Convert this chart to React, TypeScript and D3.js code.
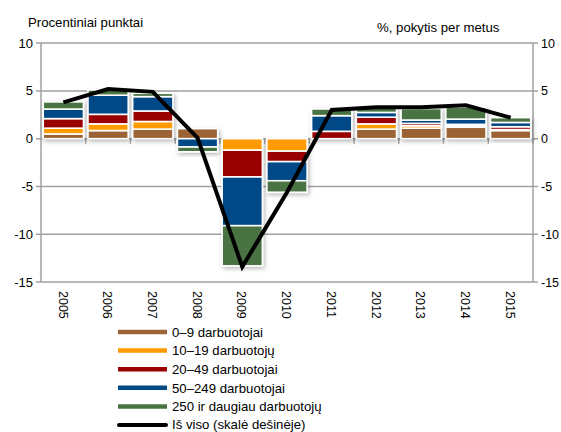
import React from "react";
import * as d3 from "d3";

const years = ["2005","2006","2007","2008","2009","2010","2011","2012","2013","2014","2015"];
const seriesNames = ["0–9 darbuotojai","10–19 darbuotojų","20–49 darbuotojai","50–249 darbuotojai","250 ir daugiau darbuotojų"];
const s0_9 =     [0.5, 0.85, 1.0, 1.05, 0, 0, 0, 1.0, 1.1, 1.2, 0.85];
const s10_19 =   [0.6, 0.7, 0.8, 0, -1.2, -1.3, 0, 0.55, 0.25, 0.15, 0.1];
const s20_49 =   [1.0, 1.0, 1.1, 0, -2.8, -1.1, 0.77, 0.7, 0.25, 0.15, 0.3];
const s50_249 =  [1.0, 2.0, 1.5, -0.87, -5.1, -2.0, 1.64, 0.5, 0.35, 0.55, 0.45];
const s250 =     [0.75, 0.55, 0.35, -0.5, -4.2, -1.2, 0.7, 0.45, 1.2, 1.25, 0.5];
const totalLine = [3.8, 5.2, 4.9, 0.1, -13.4, -5.6, 3.0, 3.3, 3.3, 3.5, 2.2];
const totalName = "Iš viso (skalė dešinėje)";
const yTicks = [10, 5, 0, -5, -10, -15];
const colors = ["#9B6434", "#FF9A00", "#990000", "#004A86", "#4A7343"];

const keys = ["a", "b", "c", "d", "e"];
const seriesArrays = [s0_9, s10_19, s20_49, s50_249, s250];
const table = years.map((y, i) => {
  const row: any = { year: y };
  keys.forEach((k, j) => (row[k] = seriesArrays[j][i]));
  return row;
});

export default function App() {
  const W = 561, H = 432;
  const left = 41, right = 533, top = 43.1, bottom = 282.1;
  const x = d3.scaleBand<string>().domain(years).range([left, right]).paddingInner(0.1).paddingOuter(0.05);
  const y = d3.scaleLinear().domain([-15, 10]).range([bottom, top]);
  const stack = d3.stack<any>().keys(keys).offset(d3.stackOffsetDiverging);
  const stacked = stack(table);
  const line = d3.line<number>().x((_, i) => (x(years[i]) as number) + x.bandwidth() / 2).y((d) => y(d));
  const font = "'Liberation Sans', Arial, sans-serif";
  const gray = "#A0A0A0";
  const step = x.step();
  const fs = 13.2;

  return (
    <div style={{ position: "absolute", left: 0, top: 0 }}>
      <svg width={W} height={H} style={{ display: "block", background: "#fff" }} fontFamily={font}>
        <defs>
          <filter id="sh" x="-20%" y="-20%" width="140%" height="140%">
            <feDropShadow dx="1.5" dy="2" stdDeviation="2.2" floodColor="#000" floodOpacity="0.28" />
          </filter>
        </defs>
        {yTicks.map((t) => (
          <line key={"g" + t} x1={left - 5} x2={right + 5} y1={y(t)} y2={y(t)} stroke={gray} strokeWidth={1.5} />
        ))}
        <line x1={left} x2={left} y1={top} y2={bottom} stroke={gray} strokeWidth={1.5} />
        <line x1={right} x2={right} y1={top} y2={bottom} stroke={gray} strokeWidth={1.5} />
        {years.map((yr, i) => (
          <line key={"ct" + i} x1={left + step * (i + 1)} x2={left + step * (i + 1)} y1={y(0)} y2={y(0) + 5} stroke={gray} strokeWidth={1.5} />
        ))}
        {years.map((yr, i) => (
          <g key={"bar" + yr} filter="url(#sh)">
            {stacked.map((s, j) => {
              const d = s[i];
              const y0 = y(d[0]), y1 = y(d[1]);
              const h = Math.abs(y0 - y1);
              if (h < 0.01) return null;
              return (
                <rect key={j} x={x(yr)} width={x.bandwidth()} y={Math.min(y0, y1)} height={h} fill={colors[j]} stroke="#fff" strokeWidth={1.6} />
              );
            })}
          </g>
        ))}
        <path d={line(totalLine) || ""} fill="none" stroke="#000" strokeWidth={4} strokeLinejoin="miter" />
        {yTicks.map((t) => (
          <text key={"l" + t} x={33} y={y(t) + 4.5} textAnchor="end" fontSize={13} fill="#000">{t}</text>
        ))}
        {yTicks.map((t) => (
          <text key={"r" + t} x={541} y={y(t) + 4.5} textAnchor="start" fontSize={12.5} fill="#000">{t}</text>
        ))}
        {years.map((yr) => {
          const cx = (x(yr) as number) + x.bandwidth() / 2;
          return (
            <text key={"yl" + yr} transform={`translate(${cx - 4.8},${291}) rotate(90)`} fontSize={12.5} fill="#000">{yr}</text>
          );
        })}
        <text x={28} y={27} fontSize={fs} fill="#000">Procentiniai punktai</text>
        <text x={377} y={32} fontSize={fs} fill="#000">%, pokytis per metus</text>
        {seriesNames.map((n, j) => {
          const ly = 332 + j * 18.6;
          return (
            <g key={"lg" + j}>
              <line x1={118} x2={167} y1={ly} y2={ly} stroke={colors[j]} strokeWidth={4.5} />
              <text x={172} y={ly + 4.8} fontSize={fs} fill="#000">{n}</text>
            </g>
          );
        })}
        <g>
          <line x1={119} x2={166} y1={425} y2={425} stroke="#000" strokeWidth={4} strokeLinecap="round" />
          <text x={172} y={429.3} fontSize={fs} fill="#000">{totalName}</text>
        </g>
      </svg>
    </div>
  );
}
